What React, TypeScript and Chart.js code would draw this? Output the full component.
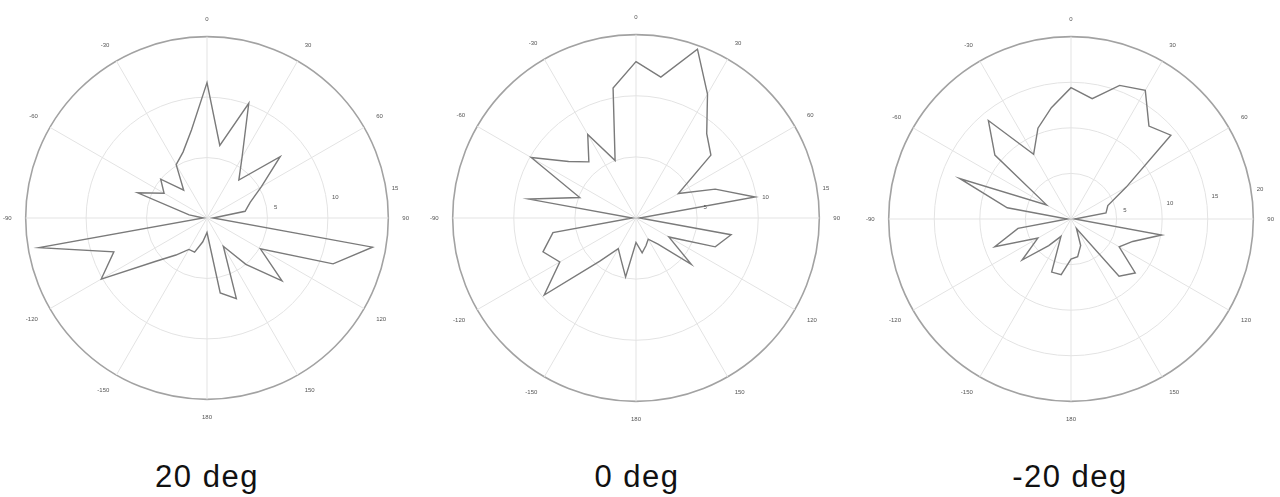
import React, { useEffect, useRef } from "react";
import { Chart, registerables } from "chart.js";

Chart.register(...registerables);

// Angular categories, clockwise from top, every 10 degrees
const ANGLE_LABELS = [
  "0", "10", "20", "30", "40", "50", "60", "70", "80", "90",
  "100", "110", "120", "130", "140", "150", "160", "170", "180",
  "-170", "-160", "-150", "-140", "-130", "-120", "-110", "-100", "-90",
  "-80", "-70", "-60", "-50", "-40", "-30", "-20", "-10",
];

// Angular tick labels that are shown
const MAJOR_ANGLE_LABELS = ["0", "30", "60", "90", "120", "150", "180", "-150", "-120", "-90", "-60", "-30"];

// Series values (radius) per panel
const GAIN_20DEG = [
  11.2, 6.1, 10.1, 5.8, 4.1, 7.9, 5.2, 3.8, 3.2, 0.5,
  13.9, 11.1, 5.1, 8.1, 5.0, 2.7, 7.1, 6.3, 1.2,
  2.0, 3.0, 3.0, 4.0, 5.6, 10.1, 8.2, 14.1, 0.3,
  1.5, 6.1, 4.1, 5.0, 3.0, 5.1, 5.8, 7.4,
];

const GAIN_0DEG = [
  12.8, 11.7, 14.7, 11.7, 9.0, 8.0, 4.0, 6.9, 9.9, 0.3,
  7.9, 6.9, 3.1, 5.9, 2.8, 2.0, 2.4, 2.9, 2.0,
  4.9, 3.6, 2.9, 4.6, 9.8, 7.2, 8.1, 6.9, 0.3,
  8.9, 4.9, 9.9, 7.2, 6.0, 7.9, 5.0, 10.8,
];

const GAIN_M20DEG = [
  14.4, 13.4, 15.6, 16.3, 13.3, 14.3, 7.0, 4.3, 3.9, 0.4,
  10.1, 7.2, 6.1, 9.2, 8.2, 1.2, 3.1, 4.2, 4.4,
  6.2, 6.2, 2.2, 3.8, 7.0, 4.2, 8.9, 5.9, 0.4,
  7.1, 13.0, 3.1, 10.9, 14.1, 8.2, 10.6, 12.4,
];

// Radial tick labels per panel
const TICKS_20DEG = [5, 10, 15];
const TICKS_0DEG = [5, 10, 15];
const TICKS_M20DEG = [5, 10, 15, 20];

const TITLES = ["20 deg", "0 deg", "-20 deg"];

const FONT = '"Liberation Sans", Arial, Helvetica, sans-serif';

type PanelProps = {
  values: number[];
  ticks: number[];
  left: number;
  top: number;
  width: number;
  height: number;
};

function PolarPanel({ values, ticks, left, top, width, height }: PanelProps) {
  const ref = useRef<HTMLCanvasElement | null>(null);

  useEffect(() => {
    if (!ref.current) return;
    const max = ticks[ticks.length - 1];
    const radialTicks = {
      id: "radialTicks",
      afterDraw(chart: any) {
        const scale = chart.scales.r;
        const ctx = chart.ctx;
        ctx.save();
        ctx.font = `6px ${FONT}`;
        ctx.fillStyle = "#555";
        ctx.textAlign = "center";
        ctx.textBaseline = "middle";
        const a = (81 * Math.PI) / 180;
        for (const v of ticks) {
          const r = scale.getDistanceFromCenterForValue(v) + 9;
          ctx.fillText(String(v), scale.xCenter + r * Math.sin(a), scale.yCenter - r * Math.cos(a));
        }
        ctx.restore();
      },
    };
    const chart = new Chart(ref.current, {
      type: "radar",
      data: {
        labels: ANGLE_LABELS,
        datasets: [
          {
            data: values,
            borderColor: "#7a7a7a",
            borderWidth: 1.4,
            fill: false,
            pointRadius: 0,
            pointHoverRadius: 0,
            tension: 0,
          },
        ],
      },
      options: {
        responsive: false,
        animation: false,
        devicePixelRatio: 1,
        plugins: {
          legend: { display: false },
          tooltip: { enabled: false },
        },
        scales: {
          r: {
            min: 0,
            max,
            startAngle: 0,
            ticks: { stepSize: 5, display: false },
            grid: {
              circular: true,
              color: (c: any) => (c.tick && c.tick.value === max ? "#a2a2a2" : "#e3e3e3"),
              lineWidth: (c: any) => (c.tick && c.tick.value === max ? 1.6 : 1),
            },
            angleLines: {
              display: true,
              color: (c: any) => (c.index % 3 === 0 ? "#e3e3e3" : "rgba(0,0,0,0)"),
              lineWidth: (c: any) => (c.index % 3 === 0 ? 1 : 0),
            },
            pointLabels: {
              display: true,
              padding: 14,
              color: "#555",
              font: { size: 6, family: FONT },
              callback: (label: string) => (MAJOR_ANGLE_LABELS.includes(label) ? label : ""),
            },
          },
        },
      },
      plugins: [radialTicks],
    });
    return () => chart.destroy();
  }, [values, ticks]);

  return (
    <canvas
      ref={ref}
      width={width}
      height={height}
      style={{ position: "absolute", left, top, width, height }}
    />
  );
}

const captionStyle = (cx: number): React.CSSProperties => ({
  position: "absolute",
  left: cx - 100,
  width: 200,
  top: 461,
  textAlign: "center",
  fontFamily: FONT,
  fontSize: 31,
  lineHeight: "31px",
  letterSpacing: "1.5px",
  color: "#111",
  whiteSpace: "nowrap",
});

export default function App() {
  return (
    <div
      style={{
        position: "absolute",
        left: 0,
        top: 0,
        width: 1280,
        height: 497,
        background: "#fff",
        overflow: "hidden",
      }}
    >
      <PolarPanel values={GAIN_20DEG} ticks={TICKS_20DEG} left={3} top={0} width={408} height={436} />
      <PolarPanel values={GAIN_0DEG} ticks={TICKS_0DEG} left={429} top={0} width={413} height={436} />
      <PolarPanel values={GAIN_M20DEG} ticks={TICKS_M20DEG} left={865} top={0} width={411} height={438} />
      <div style={captionStyle(207)}>{TITLES[0]}</div>
      <div style={captionStyle(637)}>{TITLES[1]}</div>
      <div style={captionStyle(1070)}>{TITLES[2]}</div>
    </div>
  );
}
